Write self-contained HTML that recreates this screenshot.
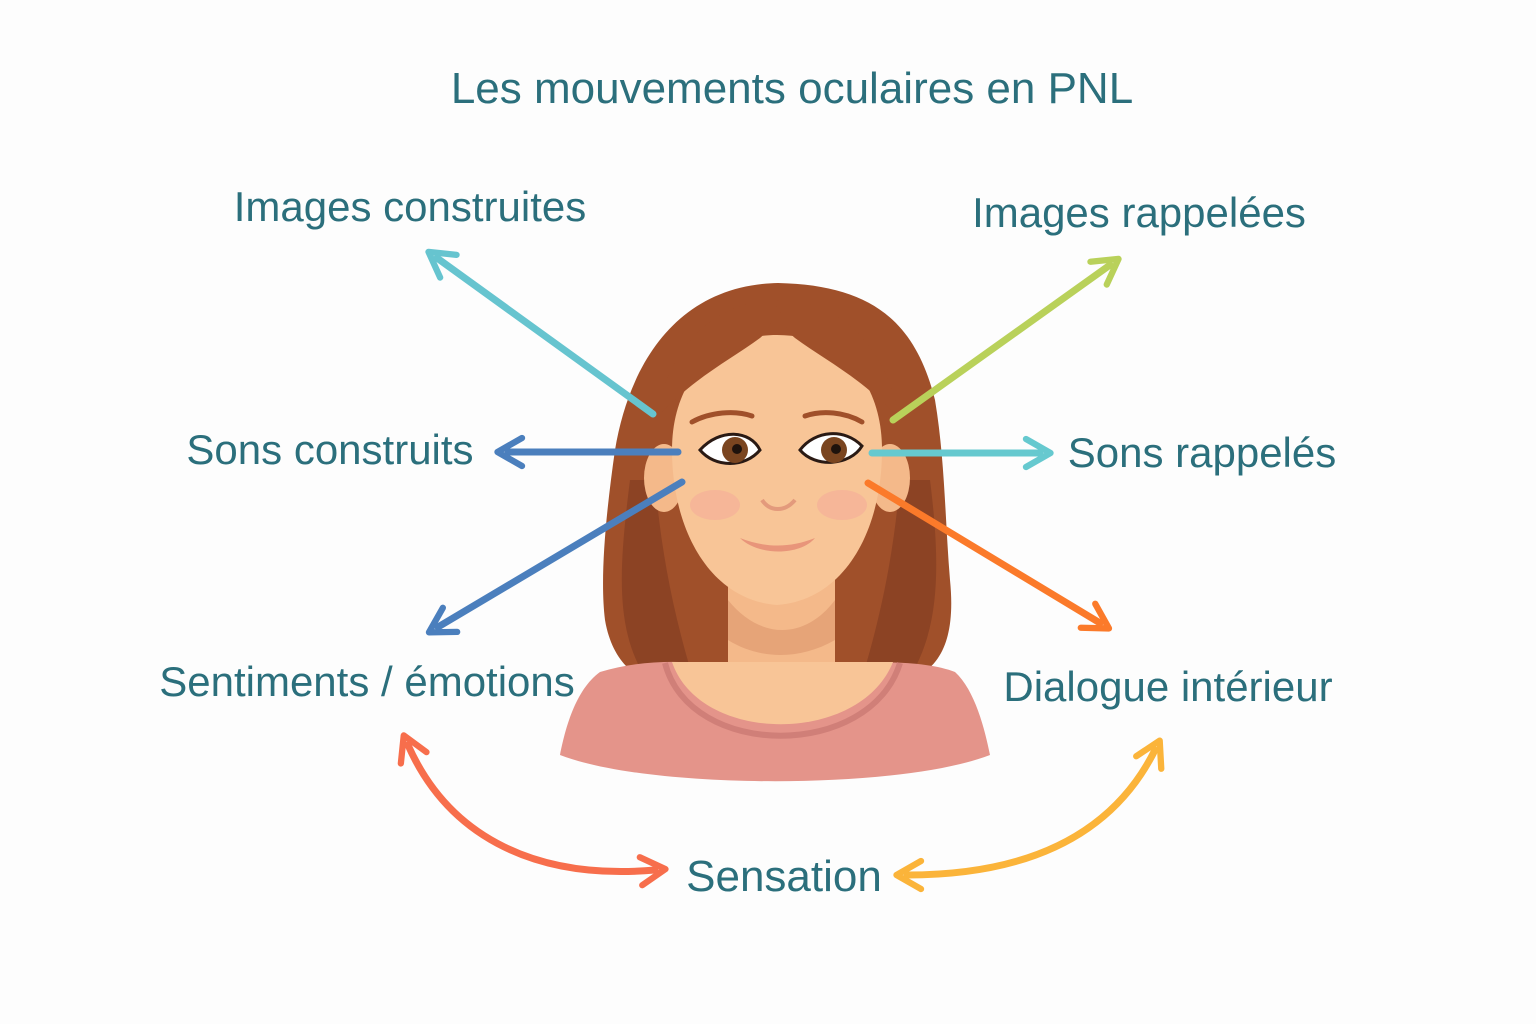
<!DOCTYPE html>
<html><head><meta charset="utf-8"><style>
html,body{margin:0;padding:0;background:#fdfdfd;}
svg{display:block}
text{font-family:"Liberation Sans",sans-serif;fill:#2b6f7c;}
</style></head><body>
<svg width="1536" height="1024" viewBox="0 0 1536 1024" xmlns="http://www.w3.org/2000/svg">
<rect width="1536" height="1024" fill="#fdfdfd"/>
<text x="792" y="103" font-size="44" text-anchor="middle">Les mouvements oculaires en PNL</text>
<text x="410" y="221" font-size="42" text-anchor="middle">Images construites</text>
<text x="1139" y="227" font-size="42" text-anchor="middle">Images rappelées</text>
<text x="330" y="464" font-size="42" text-anchor="middle">Sons construits</text>
<text x="1202" y="467" font-size="42" text-anchor="middle">Sons rappelés</text>
<text x="367" y="696" font-size="42" text-anchor="middle">Sentiments / émotions</text>
<text x="1168" y="701" font-size="42" text-anchor="middle">Dialogue intérieur</text>
<text x="784" y="891" font-size="44" text-anchor="middle">Sensation</text>

<!-- hair back -->
<path d="M778 283 C680 285 630 360 615 450 C605 520 600 580 605 620 C610 650 625 670 640 675 L920 675 C945 660 955 630 950 580 C945 520 945 460 935 400 C915 320 870 285 778 283 Z" fill="#a0502a"/>
<path d="M630 480 C620 560 615 620 640 668 L690 668 C670 600 660 540 655 480 Z" fill="#7e3a22" opacity="0.6"/>
<path d="M930 480 C940 560 940 620 915 668 L865 668 C885 600 895 540 900 480 Z" fill="#7e3a22" opacity="0.6"/>
<!-- neck -->
<path d="M728 570 L728 690 L835 690 L835 570 Z" fill="#f4b98a"/>
<path d="M728 600 C760 640 805 640 835 600 L835 640 C800 660 760 660 728 640 Z" fill="#e6a478"/>
<!-- shirt -->
<path d="M600 672 C640 660 680 660 720 665 C740 720 820 720 845 665 C880 660 930 662 955 672 C975 690 985 730 990 755 C900 790 650 790 560 755 C565 730 575 690 600 672 Z" fill="#e4948a"/>
<path d="M665 663 C690 760 870 760 900 663" fill="none" stroke="#d07f78" stroke-width="6"/>
<path d="M672 662 C700 745 860 745 893 662 Z" fill="#f8c597"/>
<!-- ears -->
<ellipse cx="664" cy="478" rx="20" ry="34" fill="#f4b98a"/>
<ellipse cx="890" cy="478" rx="20" ry="34" fill="#f4b98a"/>
<!-- face -->
<path d="M777 335 C715 335 672 380 672 450 C672 530 710 600 777 605 C845 600 882 530 882 450 C882 380 840 335 777 335 Z" fill="#f8c597"/>
<!-- bangs -->
<path d="M778 300 C720 300 670 340 655 420 C690 380 730 360 760 338 C770 330 775 315 778 300 Z" fill="#a0502a"/>
<path d="M778 300 C835 300 885 340 900 420 C865 380 825 360 795 338 C785 330 780 315 778 300 Z" fill="#a0502a"/>
<ellipse cx="715" cy="505" rx="25" ry="15" fill="#f4a79a" opacity="0.5"/>
<ellipse cx="842" cy="505" rx="25" ry="15" fill="#f4a79a" opacity="0.5"/>
<!-- brows -->
<path d="M692 422 C710 412 735 410 752 416" stroke="#a0502a" stroke-width="5" fill="none" stroke-linecap="round"/>
<path d="M805 416 C822 410 845 412 862 422" stroke="#a0502a" stroke-width="5" fill="none" stroke-linecap="round"/>
<!-- eyes -->
<path d="M700 450 C720 428 750 430 760 450 C745 468 715 468 700 450 Z" fill="#fff" stroke="#2a1a14" stroke-width="3"/>
<circle cx="735" cy="450" r="13" fill="#7a4520"/><circle cx="737" cy="449" r="5" fill="#1e120c"/>
<path d="M800 450 C815 430 845 428 862 446 C850 466 815 468 800 450 Z" fill="#fff" stroke="#2a1a14" stroke-width="3"/>
<circle cx="834" cy="450" r="13" fill="#7a4520"/><circle cx="836" cy="449" r="5" fill="#1e120c"/>
<!-- nose, mouth -->
<path d="M762 500 C770 512 785 512 795 500" stroke="#e39a7c" stroke-width="4" fill="none"/>
<path d="M740 538 C765 548 790 548 815 538 C800 556 758 556 740 538 Z" fill="#e8957a"/>

<!-- arrows -->
<defs>
<marker id="ah" viewBox="0 0 10 10" refX="5" refY="5" markerWidth="5" markerHeight="5" orient="auto-start-reverse" markerUnits="strokeWidth">
<path d="M1 1 L8 5 L1 9" fill="none" stroke="context-stroke" stroke-width="1.8" stroke-linecap="round" stroke-linejoin="round"/>
</marker>
</defs>
<g fill="none" stroke-width="7" stroke-linecap="round">
<line x1="653" y1="414" x2="437" y2="258" stroke="#66c4cf" marker-end="url(#ah)"/>
<line x1="893" y1="420" x2="1110" y2="265" stroke="#b9d15a" marker-end="url(#ah)"/>
<line x1="678" y1="452" x2="508" y2="452" stroke="#4b7fbd" marker-end="url(#ah)"/>
<line x1="872" y1="453" x2="1040" y2="453" stroke="#66c9cf" marker-end="url(#ah)"/>
<line x1="682" y1="482" x2="438" y2="627" stroke="#4b7fbd" marker-end="url(#ah)"/>
<line x1="868" y1="483" x2="1100" y2="623" stroke="#fb7a2a" marker-end="url(#ah)"/>
<path d="M408 745 C450 840 540 880 655 870" stroke="#f76e4c" marker-start="url(#ah)" marker-end="url(#ah)"/>
<path d="M1155 750 C1110 840 1020 875 907 875" stroke="#fbb43a" marker-start="url(#ah)" marker-end="url(#ah)"/>
</g>
</svg>
</body></html>
